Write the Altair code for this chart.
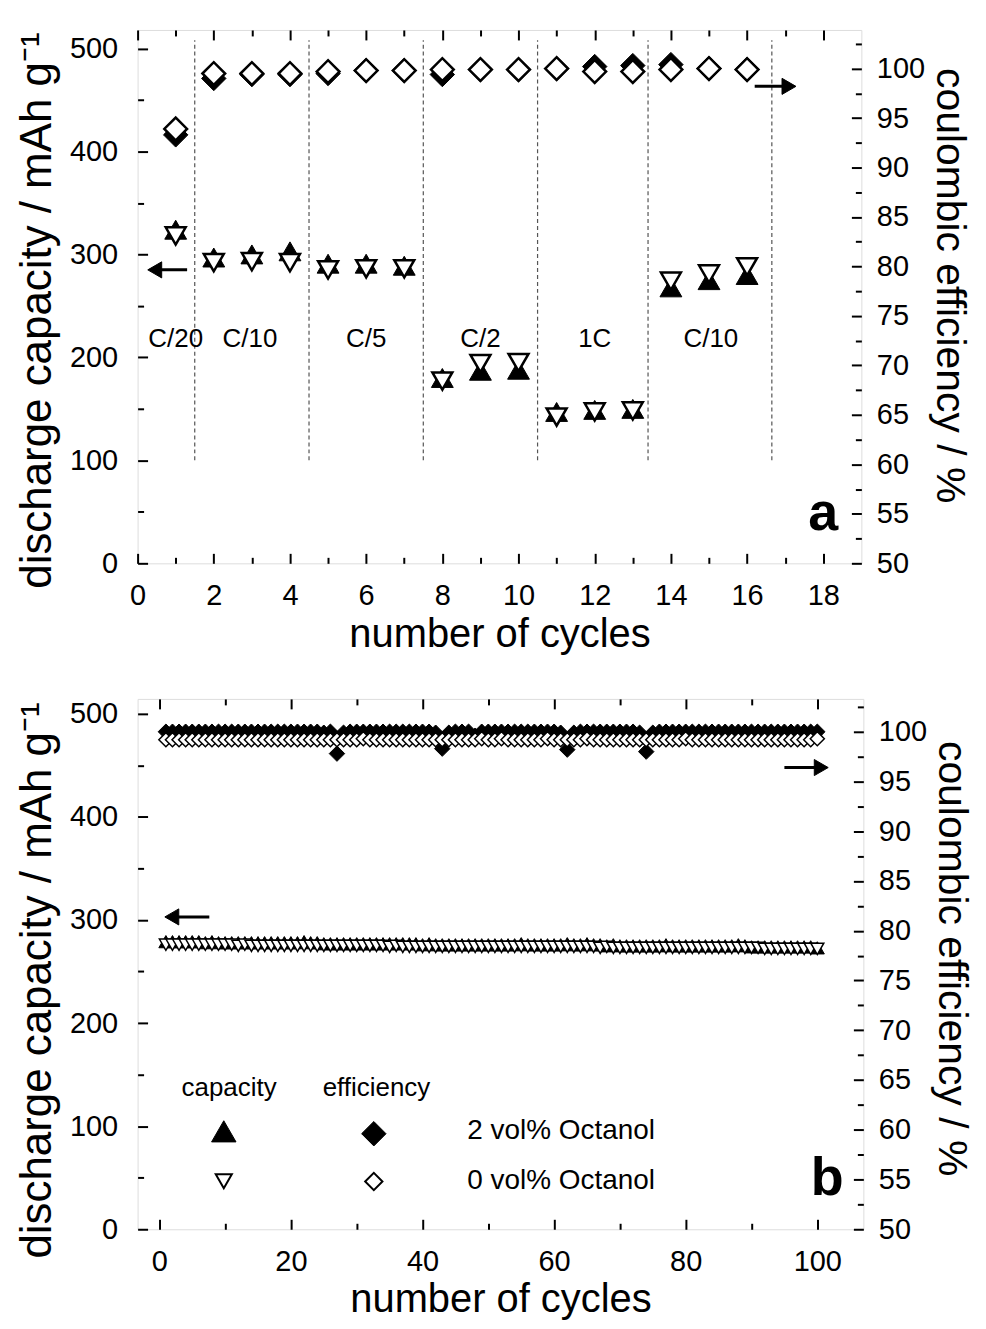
import altair as alt
import pandas as pd

FONT = "Liberation Sans"

# ---------------- panel a data ----------------
cycles_a = list(range(1, 17))
cap_2vol_a = [324, 297, 300, 303, 291, 291, 289, 180, 187, 188, 147, 149, 150, 268, 275, 280]
cap_0vol_a = [318, 292, 293, 292, 285, 286, 286, 177, 194, 195, 142, 147, 148, 274, 281, 288]
eff_2vol_a = [93.3, 99.0, 99.4, 99.4, 99.5, 99.8, 99.8, 99.4, 99.9, 99.9, 100.0, 100.2, 100.3, 100.4, 100.0, 99.9]
eff_0vol_a = [93.9, 99.5, 99.5, 99.5, 99.7, 99.8, 99.8, 99.9, 99.9, 99.9, 100.0, 99.7, 99.7, 99.9, 100.0, 99.9]
rate_labels = ["C/20", "C/10", "C/5", "C/2", "1C", "C/10"]
rate_label_x = [1.0, 2.95, 6.0, 9.0, 12.0, 15.05]
rate_bounds = [1.5, 4.5, 7.5, 10.5, 13.4, 16.65]

# ---------------- panel b data ----------------
cycles_b = list(range(1, 101))
cap_2vol_b = [
    279, 279, 279, 279, 279, 279, 278, 279, 278, 278,
    278, 278, 278, 278, 278, 278, 278, 278, 278, 278,
    278, 279, 278, 278, 277, 277, 277, 277, 277, 277,
    277, 277, 277, 277, 277, 277, 277, 277, 277, 276,
    277, 276, 276, 276, 276, 276, 276, 276, 276, 276,
    276, 276, 276, 276, 277, 276, 276, 276, 276, 276,
    276, 277, 276, 276, 277, 276, 276, 275, 276, 275,
    275, 275, 275, 275, 275, 275, 276, 275, 275, 275,
    275, 275, 275, 275, 275, 275, 275, 276, 275, 274,
    274, 274, 274, 274, 274, 274, 274, 274, 274, 273]
cap_0vol_b = [
    276, 276, 276, 276, 276, 276, 276, 276, 276, 276,
    276, 275, 276, 275, 275, 275, 275, 275, 275, 275,
    275, 275, 275, 275, 275, 275, 275, 275, 275, 275,
    275, 275, 275, 275, 274, 275, 274, 274, 274, 274,
    274, 274, 274, 274, 274, 274, 274, 274, 274, 274,
    274, 274, 274, 274, 274, 274, 274, 274, 274, 274,
    274, 274, 274, 274, 274, 274, 273, 274, 273, 273,
    273, 273, 273, 273, 273, 273, 273, 273, 273, 273,
    273, 273, 273, 273, 273, 273, 273, 273, 273, 273,
    273, 272, 272, 272, 272, 272, 272, 272, 272, 272]
eff_2vol_b = [
    100.0, 100.0, 100.0, 100.0, 100.0, 100.0, 100.0, 100.0, 100.0, 100.0,
    100.0, 100.0, 100.0, 100.0, 100.0, 100.0, 100.0, 100.0, 100.0, 100.0,
    100.0, 100.0, 100.0, 100.0, 99.9, 100.0, 97.8, 99.9, 100.0, 100.0,
    100.0, 100.0, 100.0, 100.0, 100.0, 100.0, 100.0, 100.0, 100.0, 100.0,
    100.0, 99.9, 98.3, 99.9, 100.0, 100.0, 100.0, 99.6, 100.0, 100.0,
    100.0, 100.0, 100.0, 100.0, 100.0, 100.0, 100.0, 100.0, 100.0, 100.0,
    99.9, 98.2, 99.9, 100.0, 100.0, 100.0, 100.0, 100.0, 100.0, 100.0,
    100.0, 100.0, 99.9, 98.0, 99.9, 100.0, 100.0, 100.0, 100.0, 100.0,
    100.0, 100.0, 100.0, 100.0, 100.0, 100.0, 100.0, 100.0, 100.0, 100.0,
    100.0, 100.0, 100.0, 100.0, 100.0, 100.0, 100.0, 100.0, 100.0, 100.0]
eff_0vol_b = [
    99.2, 99.2, 99.2, 99.2, 99.2, 99.2, 99.2, 99.2, 99.2, 99.2,
    99.2, 99.2, 99.2, 99.2, 99.2, 99.2, 99.2, 99.2, 99.2, 99.2,
    99.2, 99.2, 99.2, 99.2, 99.2, 99.2, 99.2, 99.2, 99.2, 99.2,
    99.3, 99.2, 99.2, 99.2, 99.2, 99.2, 99.2, 99.2, 99.2, 99.2,
    99.2, 99.2, 99.2, 99.2, 99.2, 99.2, 99.2, 99.2, 99.3, 99.2,
    99.2, 99.3, 99.2, 99.2, 99.2, 99.2, 99.2, 99.2, 99.3, 99.2,
    99.2, 99.2, 99.2, 99.2, 99.3, 99.2, 99.2, 99.2, 99.2, 99.2,
    99.2, 99.2, 99.2, 99.2, 99.2, 99.2, 99.2, 99.2, 99.2, 99.3,
    99.2, 99.2, 99.2, 99.2, 99.2, 99.2, 99.2, 99.2, 99.2, 99.2,
    99.2, 99.2, 99.2, 99.2, 99.2, 99.2, 99.2, 99.2, 99.2, 99.3]
legend_rows = ["2 vol% Octanol", "0 vol% Octanol"]
legend_heads = ["capacity", "efficiency"]

LABEL_FS = 29


def tsize(test, major, minor):
    return {"expr": f"({test}) ? {major} : {minor}"}


def xaxis(values, mod, top=False, title="number of cycles"):
    test = f"datum.value % {mod} === 0"
    common = dict(values=values, tickSize=tsize(test, -10, -6), tickWidth=2,
                  tickColor="black", domain=False, grid=False)
    if top:
        return alt.Axis(orient="top", labels=False, title=None, **common)
    return alt.Axis(orient="bottom", labelExpr=f"{test} ? datum.label : ''",
                    labelFontSize=LABEL_FS, labelPadding=28, labelOverlap=False,
                    labelFlush=False,
                    title=title, titleFontSize=40, titleFontWeight="normal",
                    titlePadding=0, **common)


def yaxis_left(values, ty):
    test = "datum.value % 100 === 0"
    return alt.Axis(orient="left", values=values, tickSize=tsize(test, -10, -6), tickWidth=2,
                    tickColor="black", domain=False, grid=False,
                    labelExpr=f"{test} ? datum.label : ''", labelFontSize=LABEL_FS,
                    labelPadding=30, labelOverlap=False, labelFlush=False,
                    title="discharge capacity / mAh g\u207b\u00b9", titleFontSize=44,
                    titleFontWeight="normal", titlePadding=10, titleY=ty)


def yaxis_right(values, ty):
    test = "datum.value % 5 === 0"
    return alt.Axis(orient="right", values=values, tickSize=tsize(test, -10, -6), tickWidth=2,
                    tickColor="black", domain=False, grid=False,
                    labelExpr=f"{test} ? datum.label : ''", labelFontSize=LABEL_FS,
                    labelPadding=25, labelOverlap=False, labelFlush=False,
                    title="coulombic efficiency / %", titleFontSize=41,
                    titleFontWeight="normal", titlePadding=3, titleAngle=90, titleY=ty)


def enc(chart, xs, xa, ys, ya, **extra):
    return chart.encode(x=alt.X("x:Q", scale=xs, axis=xa), y=alt.Y("y:Q", scale=ys, axis=ya), **extra)


def points(x, y, shape, filled, size, xs, xa, ys, ya, sw=2.5):
    df = pd.DataFrame({"x": x, "y": y})
    if filled:
        m = alt.Chart(df).mark_point(shape=shape, filled=True, fill="black", stroke="black",
                                     strokeWidth=1, size=size, opacity=1)
    else:
        m = alt.Chart(df).mark_point(shape=shape, filled=True, fill="white", stroke="black",
                                     strokeWidth=sw, size=size, opacity=1)
    return enc(m, xs, xa, ys, ya)


def arrow(x0, x1, yv, head_x, head_shape, xs, xa, ys, ya):
    shaft = alt.Chart(pd.DataFrame({"x": [x0], "x2": [x1], "y": [yv]})).mark_rule(
        color="black", strokeWidth=3).encode(
        x=alt.X("x:Q", scale=xs, axis=xa), x2="x2:Q", y=alt.Y("y:Q", scale=ys, axis=ya))
    head = alt.Chart(pd.DataFrame({"x": [head_x], "y": [yv]})).mark_point(
        shape=head_shape, filled=True, fill="black", stroke="black", strokeWidth=1,
        size=260, opacity=1)
    head = enc(head, xs, xa, ys, ya)
    return [shaft, head]


def texts(x, y, labels, xs, xa, ys, ya, size, align="center", weight="normal"):
    df = pd.DataFrame({"x": x, "y": y, "t": labels})
    m = alt.Chart(df).mark_text(font=FONT, fontSize=size, align=align, baseline="middle",
                                color="black", fontWeight=weight)
    return enc(m, xs, xa, ys, ya, text="t:N")


# ---------------- panel a ----------------
xs_a = alt.Scale(domain=[0, 19], nice=False, zero=False)
ycap_a = alt.Scale(domain=[0, 518], nice=False)
yeff_a = alt.Scale(domain=[50, 103.9], nice=False, zero=False)
xa_bot = xaxis(list(range(0, 19)), 2)
xa_top = xaxis(list(range(0, 19)), 2, top=True)
ya_l = yaxis_left(list(range(0, 501, 50)), 281)
ya_r = yaxis_right([50 + 2.5 * i for i in range(22)], 256)

dash_df = pd.DataFrame({"x": rate_bounds, "y": [100] * 6, "y2": [508] * 6})
dashes = alt.Chart(dash_df).mark_rule(color="#555555", strokeWidth=1.2, strokeDash=[4, 3]).encode(
    x=alt.X("x:Q", scale=xs_a, axis=xa_bot), y=alt.Y("y:Q", scale=ycap_a, axis=ya_l), y2="y2:Q")

cap_a = alt.layer(
    dashes,
    texts(rate_label_x, [218] * 6, rate_labels, xs_a, xa_bot, ycap_a, ya_l, 26),
    points(cycles_a, cap_2vol_a, "triangle-up", True, 480, xs_a, xa_bot, ycap_a, ya_l),
    points(cycles_a, cap_0vol_a, "triangle-down", False, 400, xs_a, xa_bot, ycap_a, ya_l),
    *arrow(0.4, 1.3, 285, 0.45, "triangle-left", xs_a, xa_bot, ycap_a, ya_l),
    texts([18.0], [48], ["a"], xs_a, xa_bot, ycap_a, ya_l, 54, weight="bold"),
)
eff_a = alt.layer(
    points(cycles_a, eff_2vol_a, "diamond", True, 600, xs_a, xa_top, yeff_a, ya_r),
    points(cycles_a, eff_0vol_a, "diamond", False, 520, xs_a, xa_top, yeff_a, ya_r),
    *arrow(16.2, 17.1, 98.2, 17.1, "triangle-right", xs_a, xa_top, yeff_a, ya_r),
)
panel_a = alt.layer(cap_a, eff_a).resolve_scale(x="independent", y="independent").properties(
    width=726, height=535)

# ---------------- panel b ----------------
xs_b = alt.Scale(domain=[-3.3, 107], nice=False, zero=False)
ycap_b = alt.Scale(domain=[0, 514.5], nice=False)
yeff_b = alt.Scale(domain=[50, 103.3], nice=False, zero=False)
xb_bot = xaxis(list(range(0, 101, 10)), 20)
xb_top = xaxis(list(range(0, 101, 10)), 20, top=True)
yb_l = yaxis_left(list(range(0, 501, 50)), 282)
yb_r = yaxis_right([50 + 2.5 * i for i in range(22)], 260)

cap_b = alt.layer(
    points(cycles_b, cap_2vol_b, "triangle-up", True, 200, xs_b, xb_bot, ycap_b, yb_l),
    points(cycles_b, cap_0vol_b, "triangle-down", False, 170, xs_b, xb_bot, ycap_b, yb_l, sw=1.5),
    *arrow(1.6, 7.6, 303, 1.9, "triangle-left", xs_b, xb_bot, ycap_b, yb_l),
    texts([10.6, 33.0], [137, 137], legend_heads, xs_b, xb_bot, ycap_b, yb_l, 26),
    points([9.8], [95], "triangle-up", True, 600, xs_b, xb_bot, ycap_b, yb_l),
    points([9.8], [46.5], "triangle-down", False, 260, xs_b, xb_bot, ycap_b, yb_l, sw=2),
    texts([46.8, 46.8], [95, 46.5], legend_rows, xs_b, xb_bot, ycap_b, yb_l, 28, align="left"),
    texts([101.5], [49], ["b"], xs_b, xb_bot, ycap_b, yb_l, 54, weight="bold"),
)
eff_b = alt.layer(
    points(cycles_b, eff_2vol_b, "diamond", True, 240, xs_b, xb_top, yeff_b, yb_r),
    points(cycles_b, eff_0vol_b, "diamond", False, 200, xs_b, xb_top, yeff_b, yb_r, sw=1.5),
    *arrow(95.0, 100.5, 96.4, 100.6, "triangle-right", xs_b, xb_top, yeff_b, yb_r),
    points([32.6], [59.6], "diamond", True, 600, xs_b, xb_top, yeff_b, yb_r),
    points([32.6], [54.8], "diamond", False, 300, xs_b, xb_top, yeff_b, yb_r, sw=2),
)
panel_b = alt.layer(cap_b, eff_b).resolve_scale(x="independent", y="independent").properties(
    width=728, height=532)

chart = alt.vconcat(panel_a, panel_b, spacing=37).properties(
    padding={"left": 7, "top": 18, "right": 6, "bottom": 0}
).configure_view(stroke="black", strokeWidth=2).configure_axis(
    labelFont=FONT, titleFont=FONT, labelColor="black", titleColor="black"
).configure(background="white")

chart.save("out.html", embed_options={"renderer": "svg", "actions": False})
